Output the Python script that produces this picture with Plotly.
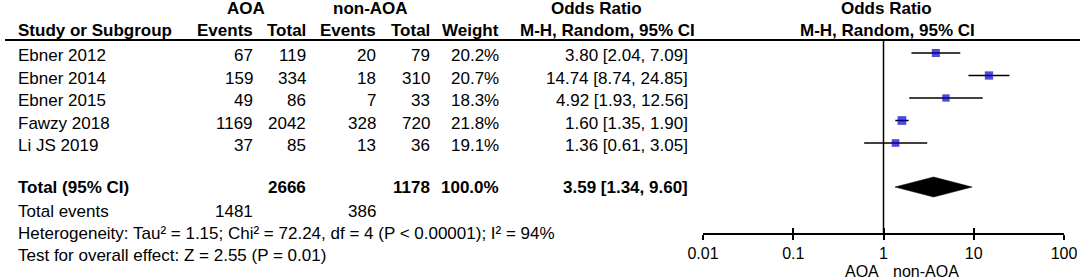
import plotly.graph_objects as go

# ---- data ----
studies = ["Ebner 2012", "Ebner 2014", "Ebner 2015", "Fawzy 2018", "Li JS 2019"]
aoa_events = [67, 159, 49, 1169, 37]
aoa_total = [119, 334, 86, 2042, 85]
non_events = [20, 18, 7, 328, 13]
non_total = [79, 310, 33, 720, 36]
weights = [20.2, 20.7, 18.3, 21.8, 19.1]
odds = [3.80, 14.74, 4.92, 1.60, 1.36]
ci_low = [2.04, 8.74, 1.93, 1.35, 0.61]
ci_high = [7.09, 24.85, 12.56, 1.90, 3.05]

total_aoa = 2666
total_non = 1178
total_weight = 100.0
total_or = 3.59
total_low = 1.34
total_high = 9.60
events_aoa = 1481
events_non = 386

heterogeneity = "Heterogeneity: Tau² = 1.15; Chi² = 72.24, df = 4 (P < 0.00001); I² = 94%"
overall = "Test for overall effect: Z = 2.55 (P = 0.01)"
tick_vals = [0.01, 0.1, 1, 10, 100]
tick_text = ["0.01", "0.1", "1", "10", "100"]

# ---- layout helpers (pixel geometry) ----
W, H = 1084, 280
AXIS_Y = 233
row_y = [53, 75.5, 98, 120.5, 143]
total_y = 187
events_y = 210
het_y = 233
test_y = 255.5
head1_y = 8
head2_y = 30.5
FONT = "Liberation Sans, Arial, sans-serif"
FS = 17


def px(x):
    return x / W


def py(y):
    return 1 - y / H


annotations = []


def txt(x, y, s, anchor="right", bold=False, size=FS):
    annotations.append(dict(
        x=px(x), y=py(y), xref="paper", yref="paper", text=f"<b>{s}</b>" if bold else s,
        showarrow=False, xanchor=anchor, yanchor="middle", borderpad=0,
        font=dict(family=FONT, size=size, color="black"),
    ))


# headers
txt(246, head1_y, "AOA", "center", True)
txt(370, head1_y, "non-AOA", "center", True)
txt(596, head1_y, "Odds Ratio", "center", True)
txt(886, head1_y, "Odds Ratio", "center", True)
txt(17, head2_y, "Study or Subgroup", "left", True)
txt(254, head2_y, "Events", "right", True)
txt(307, head2_y, "Total", "right", True)
txt(377, head2_y, "Events", "right", True)
txt(431, head2_y, "Total", "right", True)
txt(500, head2_y, "Weight", "right", True)
txt(607, head2_y, "M-H, Random, 95% CI", "center", True)
txt(887, head2_y, "M-H, Random, 95% CI", "center", True)

# study rows
for i, s in enumerate(studies):
    y = row_y[i] + 2.5
    txt(17, y, s, "left")
    txt(254, y, str(aoa_events[i]))
    txt(307, y, str(aoa_total[i]))
    txt(377, y, str(non_events[i]))
    txt(431, y, str(non_total[i]))
    txt(500, y, f"{weights[i]:.1f}%")
    txt(689, y, f"{odds[i]:.2f} [{ci_low[i]:.2f}, {ci_high[i]:.2f}]")

# totals
ty = total_y + 1
txt(17, ty, "Total (95% CI)", "left", True)
txt(307, ty, str(total_aoa), "right", True)
txt(431, ty, str(total_non), "right", True)
txt(500, ty, f"{total_weight:.1f}%", "right", True)
txt(689, ty, f"{total_or:.2f} [{total_low:.2f}, {total_high:.2f}]", "right", True)
ey = events_y + 1
txt(17, ey, "Total events", "left")
txt(254, ey, str(events_aoa))
txt(377, ey, str(events_non))
txt(17, het_y, heterogeneity, "left")
txt(17, test_y, overall, "left")

# favours labels
txt(880, 271, "AOA", "right", size=16)
txt(892, 271, "non-AOA", "left", size=16)

fig = go.Figure()

# vertical line of no effect
fig.add_trace(go.Scatter(x=[1, 1], y=[39, AXIS_Y], mode="lines",
                         line=dict(color="black", width=1.5), hoverinfo="skip", showlegend=False))

# CI lines
cx, cy = [], []
for i in range(len(studies)):
    cx += [ci_low[i], ci_high[i], None]
    cy += [row_y[i], row_y[i], None]
fig.add_trace(go.Scatter(x=cx, y=cy, mode="lines", line=dict(color="black", width=1.5),
                         hoverinfo="skip", showlegend=False))

# study squares
fig.add_trace(go.Scatter(x=odds, y=row_y, mode="markers",
                         marker=dict(symbol="square", color="#0000c8",
                                     size=[w * 0.40 for w in weights],
                                     line=dict(color="#0000c8", width=0)),
                         showlegend=False))

# pooled diamond
fig.add_trace(go.Scatter(x=[total_low, total_or, total_high, total_or, total_low],
                         y=[total_y, total_y - 10, total_y, total_y + 10, total_y],
                         mode="lines", fill="toself", fillcolor="black",
                         line=dict(color="black", width=0.5), showlegend=False))

# invisible trace on overlay axis so it renders
fig.add_trace(go.Scatter(x=[1], y=[-100], xaxis="x2", mode="markers",
                         marker=dict(opacity=0), showlegend=False, hoverinfo="skip"))

dom = [703 / W, 1064 / W]
fig.update_layout(
    template="none",
    width=W, height=H, autosize=False,
    margin=dict(l=0, r=0, t=0, b=0, pad=0, autoexpand=False),
    paper_bgcolor="white", plot_bgcolor="white",
    showlegend=False,
    xaxis=dict(type="log", range=[-2, 2], domain=dom, anchor="y", automargin=False,
               showline=True, linecolor="black", linewidth=1.5,
               ticks="outside", ticklen=5, tickwidth=1.5, tickcolor="black",
               tickvals=tick_vals, ticktext=tick_text, showgrid=False, zeroline=False,
               tickfont=dict(family=FONT, size=16, color="black"), fixedrange=True),
    xaxis2=dict(type="log", range=[-2, 2], overlaying="x", anchor="y", side="bottom",
                automargin=False,
                ticks="inside", ticklen=5, tickwidth=1.5, tickcolor="black",
                tickvals=tick_vals, showticklabels=False, showline=False,
                showgrid=False, zeroline=False),
    yaxis=dict(domain=[1 - AXIS_Y / H, 1], range=[AXIS_Y, 0], visible=False, automargin=False,
               showgrid=False, zeroline=False, fixedrange=True),
    shapes=[dict(type="line", xref="paper", yref="paper", x0=px(5), x1=px(1080),
                 y0=py(40), y1=py(40), line=dict(color="black", width=2))],
    annotations=annotations,
)

fig.write_html("out.html", config={"displayModeBar": False},
               post_script="document.body.style.margin='0px';")
